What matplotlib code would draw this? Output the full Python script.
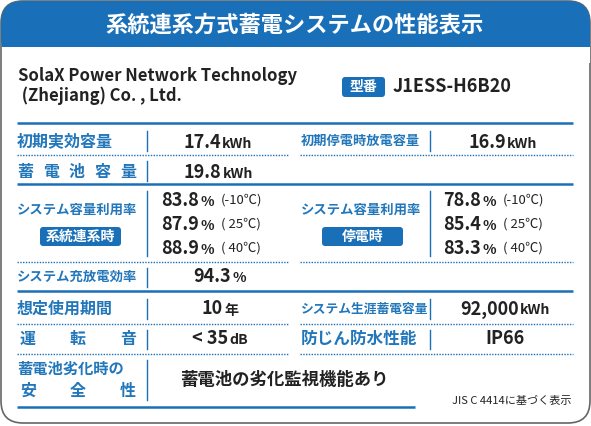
import matplotlib
matplotlib.use("Agg")
import matplotlib.pyplot as plt
from matplotlib.patches import FancyBboxPatch, Rectangle
from matplotlib.offsetbox import TextArea, HPacker, AnnotationBbox

plt.rcParams['font.family'] = ['Noto Sans CJK JP', 'DejaVu Sans']

title = "系統連系方式蓄電システムの性能表示"
company = ["SolaX Power Network Technology", " (Zhejiang) Co. , Ltd."]
model = "J1ESS-H6B20"
initial_cap = ("17.4", "kWh")
initial_outage_cap = ("16.9", "kWh")
battery_cap = ("19.8", "kWh")
temps = ["(-10℃)", "( 25℃)", "( 40℃)"]
grid_util = ["83.8", "87.9", "88.9"]
outage_util = ["78.8", "85.4", "83.3"]
efficiency = ("94.3", "%")
life = ("10", "年")
lifetime_energy = ("92,000", "kWh")
noise = ("< 35", "dB")
ip = "IP66"
safety = "蓄電池の劣化監視機能あり"

BLUE = "#1a70b8"
LBL = "#2277bb"
DARK = "#222222"

fig = plt.figure(figsize=(5.91, 4.26), dpi=100)
ax = fig.add_axes([0, 0, 1, 1])
ax.set_xlim(0, 591); ax.set_ylim(426, 0); ax.axis('off')

ax.add_patch(FancyBboxPatch((1, 1), 589, 422, boxstyle="round,pad=0,rounding_size=22",
                            fc="white", ec="#666666", lw=1.2))
ax.add_patch(FancyBboxPatch((1, 1), 589, 60, boxstyle="round,pad=0,rounding_size=22",
                            fc=BLUE, ec="none"))
ax.add_patch(Rectangle((1.6, 30), 588, 17, fc=BLUE, ec="none"))
ax.add_patch(Rectangle((1.6, 47), 588, 16, fc="white", ec="none"))
ax.text(295, 25, title, color="white", fontsize=16, fontweight="bold", ha="center", va="center")

ax.text(18, 76, company[0], fontsize=12, fontweight="bold", color=DARK, va="center")
ax.text(18, 96, company[1], fontsize=12, fontweight="bold", color=DARK, va="center")
ax.add_patch(FancyBboxPatch((342, 77), 43, 20, boxstyle="round,pad=0,rounding_size=3", fc=BLUE, ec="none"))
ax.text(363.5, 87, "型番", color="white", fontsize=10, fontweight="bold", ha="center", va="center")
ax.text(393, 87, model, fontsize=13, fontweight="bold", color=DARK, va="center")

def hsolid(y, x0=17, x1=573):
    ax.plot([x0, x1], [y, y], color=BLUE, lw=1.8, solid_capstyle="butt")
def hdot(y):
    for a, b in [(17, 288), (300, 573)]:
        ax.plot([a, b], [y, y], color=BLUE, lw=1.0, ls=(0, (1, 1)))
def vline(x, y0, y1):
    ax.plot([x, x], [y0, y1], color=BLUE, lw=1.0)

def label(x, y, s, size=11.5, spread=None):
    if spread:
        n = len(s)
        for i, c in enumerate(s):
            xx = x + (spread - x) * i / (n - 1)
            ax.text(xx, y, c, color=LBL, fontsize=size, fontweight="bold", ha="center", va="center")
    else:
        ax.text(x, y, s, color=LBL, fontsize=size, fontweight="bold", va="center")

def value(x, y, num, unit, ha="center", size=13):
    a = TextArea(num, textprops=dict(fontsize=size, fontweight="bold", color=DARK))
    b = TextArea(unit, textprops=dict(fontsize=size * 0.78, fontweight="bold", color=DARK))
    box = HPacker(children=[a, b], align="baseline", pad=0, sep=1)
    box_align = {"center": (0.5, 0.5), "left": (0, 0.5)}[ha]
    ab = AnnotationBbox(box, (x, y), xycoords="data", box_alignment=box_align, frameon=False, pad=0)
    ax.add_artist(ab)

hsolid(123)
# row1
label(17, 141, "初期実効容量", spread=None, size=11.5)
vline(147, 131, 151); vline(430, 131, 151)
value(218, 142, *initial_cap)
label(301, 141, "初期停電時放電容量", size=9.5)
value(503, 142, *initial_outage_cap)
hdot(155)
# row2
label(25, 172, "蓄電池容量", spread=128)
vline(147, 161, 181)
value(218, 172, *battery_cap)
hsolid(184)
# row3
label(17, 210, "システム容量利用率", size=9.6)
label(301, 210, "システム容量利用率", size=9.6)
for bx, bw, s in [(40, 81, "系統連系時"), (322, 81, "停電時")]:
    ax.add_patch(FancyBboxPatch((bx, 227), bw, 19, boxstyle="round,pad=0,rounding_size=3", fc=BLUE, ec="none"))
    ax.text(bx + bw / 2, 236.5, s, color="white", fontsize=10, fontweight="bold", ha="center", va="center")
vline(147, 191, 256); vline(430, 191, 256)
for i, y in enumerate([200, 224, 248]):
    value(161, y, grid_util[i], "%", ha="left")
    ax.text(221, y, temps[i], fontsize=9.5, color=DARK, va="center")
    value(443, y, outage_util[i], "%", ha="left")
    ax.text(503, y, temps[i], fontsize=9.5, color=DARK, va="center")
hdot(262)
label(17, 277, "システム充放電効率", size=9.6)
vline(147, 268, 287)
value(220, 277, *efficiency)
hsolid(291)
# row5
label(17, 309, "想定使用期間")
vline(147, 299, 319); vline(430, 299, 319)
value(220, 309, *life)
label(301, 309, "システム生涯蓄電容量", size=9.2)
value(505, 309, *lifetime_energy)
hdot(324)
# row6
label(28, 339, "運転音", spread=128)
vline(147, 330, 349); vline(430, 330, 349)
value(220, 339, *noise)
label(301, 339, "防じん防水性能", size=12)
ax.text(505, 339, ip, fontsize=13, fontweight="bold", color=DARK, ha="center", va="center")
hdot(354)
# row7
label(17, 369, "蓄電池劣化時の", size=11)
label(28, 391, "安全性", spread=128)
vline(147, 360, 400)
ax.text(180, 380, safety, fontsize=12.5, fontweight="bold", color=DARK, va="center")
hsolid(407, 17, 415)
ax.text(572, 401, "JIS C 4414に基づく表示", fontsize=8, color=DARK, ha="right", va="center")

fig.savefig("out.png", dpi=100)
